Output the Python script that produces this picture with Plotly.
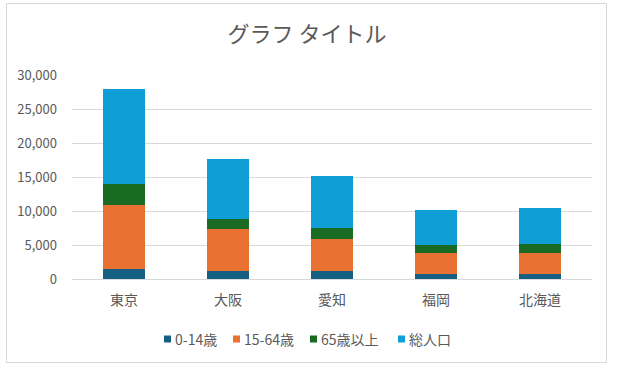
import plotly.graph_objects as go

categories = ["東京", "大阪", "愛知", "福岡", "北海道"]
age_0_14 = [1515, 1220, 1220, 780, 780]
age_15_64 = [9410, 6180, 4710, 3090, 3090]
age_65_plus = [3090, 1470, 1620, 1180, 1320]
total_pop = [13970, 8820, 7540, 5140, 5290]

series_names = ["0-14歳", "15-64歳", "65歳以上", "総人口"]
series_values = [age_0_14, age_15_64, age_65_plus, total_pop]
colors = ["#156082", "#E97132", "#196B24", "#0F9ED5"]

FONT = "Noto Sans CJK JP, Noto Sans, sans-serif"
GRAY = "#595959"

fig = go.Figure()
for name, vals, col in zip(series_names, series_values, colors):
    fig.add_trace(go.Bar(x=categories, y=vals, name=name, marker_color=col,
                         marker_line_width=0, showlegend=False))

# body margin is removed by the post_script below
W, H = 617, 372
PL, PR, PT, PB = 72, 592, 75, 279  # plot area in screen pixels
L, R, T, B = PL, W - PR, PT, H - PB
pw = W - L - R
ph = H - T - B

def px(x):
    return (x - L) / pw

def py(y):
    return (H - B - y) / ph

legend_sq_x = [164, 233, 310, 398]
legend_y = 339
shapes = [dict(type="rect", xref="paper", yref="paper",
               x0=px(6.5), x1=px(606.5), y0=py(362.5), y1=py(3.5),
               line=dict(color="#D9D9D9", width=1), layer="below")]
annotations = []
for name, col, sx in zip(series_names, colors, legend_sq_x):
    shapes.append(dict(type="rect", xref="paper", yref="paper",
                       x0=px(sx), x1=px(sx + 7), y0=py(legend_y + 3.5),
                       y1=py(legend_y - 3.5), fillcolor=col, line_width=0))
    annotations.append(dict(text=name, xref="paper", yref="paper",
                            x=px(sx + 9), y=py(legend_y), xanchor="left",
                            yanchor="middle", showarrow=False,
                            font=dict(family=FONT, size=14, color=GRAY)))

fig.update_layout(
    width=W, height=H,
    barmode="stack", bargap=0.595,
    margin=dict(l=L, r=R, t=T, b=B, autoexpand=False),
    paper_bgcolor="white", plot_bgcolor="white",
    font=dict(family=FONT, color=GRAY, size=12),
    showlegend=False,
    title=dict(text="グラフ タイトル", x=307 / W, xanchor="center",
               xref="container", y=1 - 34 / H, yanchor="middle",
               yref="container",
               font=dict(family=FONT, size=22, color=GRAY)),
    xaxis=dict(showgrid=False, showline=True, linecolor="#D9D9D9",
               ticks="", tickfont=dict(size=14, color=GRAY),
               ticklabelstandoff=8),
    yaxis=dict(range=[0, 30000], dtick=5000, tickformat=",d",
               showgrid=True, gridcolor="#D9D9D9", gridwidth=1,
               zeroline=False, showline=False, ticks="",
               tickfont=dict(size=13, color=GRAY), ticklabelstandoff=14),
    shapes=shapes,
    annotations=annotations,
)

fig.write_html("out.html", config={"displayModeBar": False},
               post_script="document.body.style.margin='0';")
